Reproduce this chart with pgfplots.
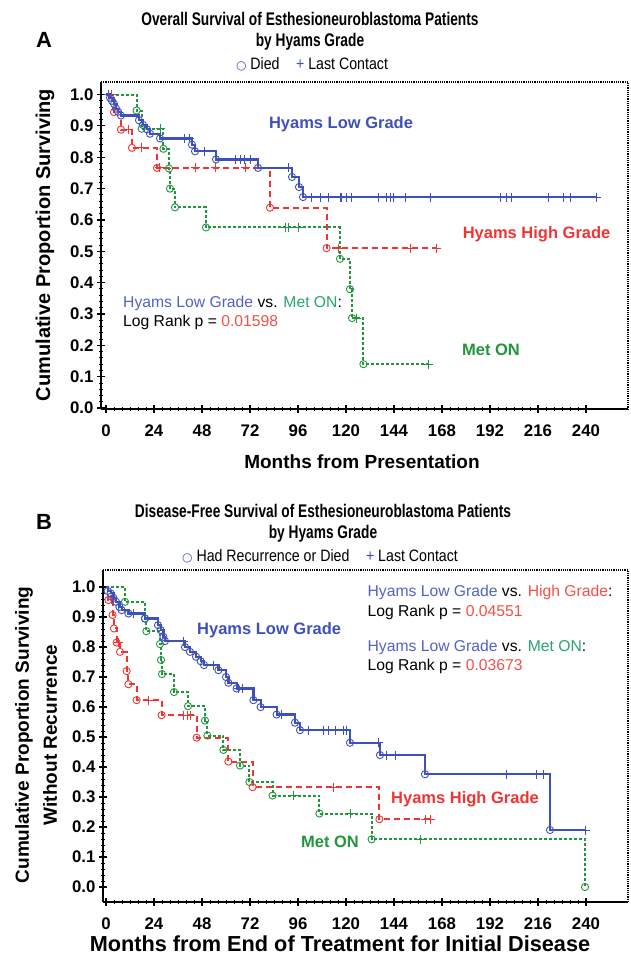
\documentclass[border=0pt]{standalone}
\usepackage{fontspec}
\setmainfont{Liberation Sans}
\newfontfamily\nar[FakeStretch=0.75]{Liberation Sans}
\newfontfamily\narl[FakeStretch=0.86]{Liberation Sans}
\newfontfamily\dejavu{DejaVu Sans}
\usepackage{pgfplots}
\pgfplotsset{compat=1.18}
\definecolor{cblue}{RGB}{62,80,188}
\definecolor{cred}{RGB}{240,52,52}
\definecolor{cgreen}{RGB}{34,150,60}
\definecolor{tblue}{RGB}{82,98,200}
\definecolor{tred}{RGB}{245,80,70}
\definecolor{tgreen}{RGB}{40,165,110}
\pgfplotsset{
  kmaxis/.style={
    anchor=south west, scale only axis,
    axis x line*=bottom, axis y line*=left,
    axis line style={-, line width=1.6pt},
    xtick={0,24,48,72,96,120,144,168,192,216,240}, minor x tick num=5,
    ytick={0,0.1,0.2,0.3,0.4,0.5,0.6,0.7,0.8,0.9,1.0}, minor y tick num=4,
    tick align=center, major tick length=8pt, minor tick length=4pt,
    every tick/.style={black, line width=1.2pt},
    minor tick style={line width=0.9pt},
    /pgf/number format/assume math mode=true,
    ticklabel style={font=\fontsize{16.8}{17}\selectfont\bfseries},
    xticklabel style={yshift=-8pt},
    yticklabel style={/pgf/number format/.cd, fixed, fixed zerofill, precision=1},
    clip=false,
  },
  bl/.style={const plot, cblue, line width=2.2pt, mark=none},
  rl/.style={const plot, cred, line width=2pt, dash pattern=on 6pt off 4pt, mark=none},
  gl/.style={const plot, cgreen, line width=2pt, dash pattern=on 3pt off 2pt, mark=none},
  evt/.style={only marks, mark=o, mark size=3.6pt, mark options={solid, line width=0.9pt}},
  cen/.style={only marks, mark=+, mark size=4.5pt, mark options={solid, line width=1pt}},
}
\newcommand{\lab}[1]{\fontsize{16.5}{18}\selectfont\bfseries #1}
\newcommand{\ann}{\fontsize{15.7}{18}\selectfont}
\begin{document}
\begin{tikzpicture}[x=1pt,y=1pt]
\useasboundingbox (0,0) rectangle (630,963);
% ---------- Panel A texts ----------
\node[font=\fontsize{22}{22}\selectfont\bfseries] at (44,923) {A};
\node[font=\nar\bfseries\fontsize{18.3}{18}\selectfont] at (310,944) {Overall Survival of Esthesioneuroblastoma Patients};
\node[font=\nar\bfseries\fontsize{18.3}{18}\selectfont] at (310,921) {by Hyams Grade};
\node[font=\narl\fontsize{16.5}{18}\selectfont] at (312,899) {\textcolor{cblue}{\dejavu\fontsize{12}{12}\selectfont ○} Died\quad\textcolor{cblue}{+} Last Contact};
\node[font=\fontsize{20}{20}\selectfont\bfseries, rotate=90] at (45,718) {Cumulative Proportion Surviving};
\node[font=\bfseries\fontsize{19}{20}\selectfont] at (362,501) {Months from Presentation};
% ---------- Panel B texts ----------
\node[font=\fontsize{22}{22}\selectfont\bfseries] at (44,441) {B};
\node[font=\nar\bfseries\fontsize{18.3}{18}\selectfont] at (323,452) {Disease-Free Survival of Esthesioneuroblastoma Patients};
\node[font=\nar\bfseries\fontsize{18.3}{18}\selectfont] at (323,429) {by Hyams Grade};
\node[font=\narl\fontsize{16.5}{18}\selectfont] at (320,407) {\textcolor{cblue}{\dejavu\fontsize{12}{12}\selectfont ○} Had Recurrence or Died\quad\textcolor{cblue}{+} Last Contact};
\node[font=\fontsize{19}{28}\selectfont\bfseries, rotate=90, align=center] at (36,228) {Cumulative Proportion Surviving\\Without Recurrence};
\node[font=\bfseries\fontsize{21.7}{24}\selectfont] at (340,19) {Months from End of Treatment for Initial Disease};

% ================= Panel A =================
\begin{axis}[kmaxis, at={(101pt,554pt)}, width=527pt, height=327pt,
  xmin=-2.5, xmax=261, ymin=-0.003, ymax=1.04]
\draw[black, line width=1.2pt, densely dotted] (rel axis cs:0,1) -- (rel axis cs:1,1) -- (rel axis cs:1,0);
% Met ON
\addplot[gl] coordinates {(0,1.0) (15.3,0.949) (17.8,0.891) (28.7,0.827) (31.5,0.764) (32,0.70) (34.5,0.64) (50,0.576) (117,0.476) (122,0.379) (123,0.287) (128.7,0.14) (161.2,0.14)};
\addplot[cgreen, evt] coordinates {(15.3,0.949) (17.8,0.891) (28.7,0.827) (31.5,0.764) (32,0.70) (34.5,0.64) (50,0.576) (117,0.476) (122,0.379) (123,0.287) (128.7,0.14)};
\addplot[cgreen, cen] coordinates {(27,0.891) (89.5,0.576) (91.2,0.576) (96.2,0.576) (125.3,0.287) (161.2,0.14)};
% High grade
\addplot[rl] coordinates {(0,1.0) (4,0.944) (7.5,0.888) (13,0.83) (25.5,0.766) (82,0.639) (110.3,0.51) (165.3,0.51)};
\addplot[cred, evt] coordinates {(4,0.944) (7.5,0.888) (13,0.83) (25.5,0.766) (82,0.639) (110.3,0.51)};
\addplot[cred, cen] coordinates {(1.2,1.0) (2.8,1.0) (11.2,0.888) (17.8,0.83) (26.5,0.766) (44.5,0.766) (54.5,0.766) (69.5,0.766) (116.2,0.51) (152,0.51) (165.3,0.51)};
% Low grade
\addplot[bl] coordinates {(0,1.0) (2,0.99) (3,0.98) (4,0.97) (5,0.955) (6,0.945) (7.5,0.933) (16.5,0.918) (18.5,0.903) (20.5,0.889) (22,0.875) (27,0.86) (43,0.84) (44.5,0.819) (55,0.793) (76,0.766) (93,0.737) (96.5,0.705) (98.5,0.673) (245,0.673)};
\addplot[cblue, evt] coordinates {(2,0.99) (3,0.98) (4,0.97) (5,0.955) (6,0.945) (7.5,0.933) (16.5,0.918) (18.5,0.903) (20.5,0.889) (22,0.875) (27,0.86) (43,0.84) (44.5,0.819) (55,0.793) (76,0.766) (93,0.737) (96.5,0.705) (98.5,0.673)};
\addplot[cblue, cen] coordinates {(1,1.0) (39,0.86) (41.5,0.86) (49,0.819) (64.5,0.793) (67,0.793) (69,0.793) (72,0.793) (91,0.766) (102.8,0.673) (107,0.673) (111,0.673) (117,0.673) (117.8,0.673) (120.3,0.673) (122.8,0.673) (136,0.673) (140.3,0.673) (142,0.673) (143.7,0.673) (149.5,0.673) (162,0.673) (197,0.673) (200.3,0.673) (202.8,0.673) (221,0.673) (228.7,0.673) (232,0.673) (245,0.673)};
\node[text=cblue, font=\lab{}] at (axis cs:117.5,0.904) {Hyams Low Grade};
\node[text=cred, font=\lab{}] at (axis cs:215.3,0.553) {Hyams High Grade};
\node[text=cgreen, font=\lab{}] at (axis cs:192.5,0.185) {Met ON};
\node[anchor=west, font=\ann, inner sep=0pt] at (axis cs:8.5,0.335) {\textcolor{tblue}{Hyams Low Grade} vs. \textcolor{tgreen}{Met ON}:};
\node[anchor=west, font=\ann, inner sep=0pt] at (axis cs:8.5,0.272) {Log Rank p = \textcolor{tred}{0.01598}};
\end{axis}

% ================= Panel B =================
\begin{axis}[kmaxis, at={(103pt,61pt)}, width=525pt, height=332pt,
  xmin=-1.5, xmax=261, ymin=-0.05, ymax=1.057]
\draw[black, line width=1.2pt, densely dotted] (rel axis cs:0,1) -- (rel axis cs:1,1) -- (rel axis cs:1,0);
% Met ON
\addplot[gl] coordinates {(0,1.0) (9.5,0.951) (19.5,0.895) (20.2,0.853) (27,0.81) (27.5,0.757) (28,0.71) (34,0.65) (41,0.603) (49.5,0.555) (50.7,0.505) (58.7,0.457) (67,0.405) (71.7,0.35) (83.3,0.305) (106.7,0.245) (132.8,0.159) (239.5,0.0)};
\addplot[cgreen, evt] coordinates {(9.5,0.951) (19.5,0.895) (20.2,0.853) (27,0.81) (27.5,0.757) (28,0.71) (34,0.65) (41,0.603) (49.5,0.555) (50.7,0.505) (58.7,0.457) (67,0.405) (71.7,0.35) (83.3,0.305) (106.7,0.245) (132.8,0.159) (239.5,0.0)};
\addplot[cgreen, cen] coordinates {(93.7,0.305) (122,0.245) (157,0.159)};
% High grade
\addplot[rl] coordinates {(0,1.0) (1.2,0.957) (3.3,0.907) (4,0.862) (5.3,0.815) (7,0.784) (10.3,0.72) (11.2,0.676) (15.3,0.623) (27.8,0.573) (45.3,0.498) (61.2,0.418) (73.3,0.333) (136.7,0.226) (162,0.226)};
\addplot[cred, evt] coordinates {(1.2,0.957) (3.3,0.907) (4,0.862) (5.3,0.815) (7,0.784) (10.3,0.72) (11.2,0.676) (15.3,0.623) (27.8,0.573) (45.3,0.498) (61.2,0.418) (73.3,0.333) (136.7,0.226)};
\addplot[cred, cen] coordinates {(2.8,0.957) (6,0.815) (21.2,0.623) (38.7,0.573) (40.7,0.573) (42,0.573) (113.7,0.333) (159.5,0.226) (162,0.226)};
% Low grade
\addplot[bl] coordinates {(0,1.0) (0.8,0.987) (2.3,0.979) (3.7,0.964) (5,0.951) (6.7,0.934) (7.8,0.923) (11.2,0.912) (19.5,0.895) (26,0.873) (27.3,0.857) (28.7,0.834) (29.5,0.82) (39.5,0.80) (42,0.784) (45,0.768) (47.3,0.753) (49,0.74) (56.2,0.723) (60,0.70) (61.2,0.681) (65.3,0.662) (73.7,0.623) (77.3,0.60) (85.3,0.575) (94.5,0.548) (97,0.523) (122,0.481) (137,0.44) (159.5,0.376) (222,0.19) (239.5,0.19)};
\addplot[cblue, evt] coordinates {(0.8,0.987) (2.3,0.979) (3.7,0.964) (5,0.951) (6.7,0.934) (7.8,0.923) (11.2,0.912) (19.5,0.895) (26,0.873) (27.3,0.857) (28.7,0.834) (29.5,0.82) (39.5,0.80) (42,0.784) (45,0.768) (47.3,0.753) (49,0.74) (56.2,0.723) (60,0.70) (61.2,0.681) (65.3,0.662) (73.7,0.623) (77.3,0.60) (85.3,0.575) (94.5,0.548) (97,0.523) (122,0.481) (137,0.44) (159.5,0.376) (222,0.19)};
\addplot[cblue, cen] coordinates {(13.7,0.912) (38.7,0.82) (53.7,0.74) (66.2,0.662) (68.3,0.662) (87.8,0.575) (101.2,0.523) (108.7,0.523) (111.2,0.523) (114.5,0.523) (118.7,0.523) (120.3,0.523) (136.2,0.481) (140.3,0.44) (144.5,0.44) (200.3,0.376) (215.3,0.376) (218.7,0.376) (239.5,0.19)};
\node[text=cblue, font=\lab{}] at (axis cs:81.6,0.857) {Hyams Low Grade};
\node[text=cred, font=\lab{}] at (axis cs:179.5,0.292) {Hyams High Grade};
\node[text=cgreen, font=\lab{}] at (axis cs:112,0.151) {Met ON};
\node[anchor=west, font=\ann, inner sep=0pt] at (axis cs:130.7,0.982) {\textcolor{tblue}{Hyams Low Grade} vs. \textcolor{tred}{High Grade}:};
\node[anchor=west, font=\ann, inner sep=0pt] at (axis cs:130.7,0.916) {Log Rank p = \textcolor{tred}{0.04551}};
\node[anchor=west, font=\ann, inner sep=0pt] at (axis cs:130.7,0.798) {\textcolor{tblue}{Hyams Low Grade} vs. \textcolor{tgreen}{Met ON}:};
\node[anchor=west, font=\ann, inner sep=0pt] at (axis cs:130.7,0.734) {Log Rank p = \textcolor{tred}{0.03673}};
\end{axis}
\end{tikzpicture}
\end{document}
